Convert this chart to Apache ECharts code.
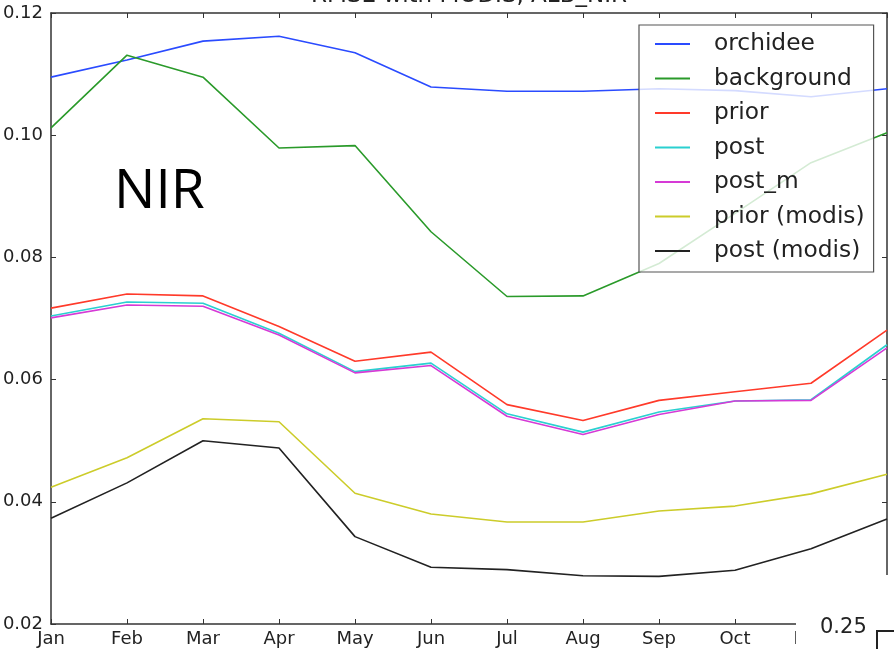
<!DOCTYPE html>
<html>
<head>
<meta charset="utf-8">
<script src="https://cdn.jsdelivr.net/npm/echarts@6/dist/echarts.min.js"></script>
<style>
  html, body { margin: 0; padding: 0; background: #fff; }
  #chart { width: 894px; height: 649px; }
</style>
</head>
<body>
<div id="chart"></div>
<script>
// monthly RMSE against MODIS, NIR albedo
const months = ["Jan", "Feb", "Mar", "Apr", "May", "Jun", "Jul", "Aug", "Sep", "Oct", "Nov", "Dec"];

const orchidee = [0.1095, 0.1123, 0.1154, 0.1162, 0.1135, 0.1079, 0.1072, 0.1072, 0.1076, 0.1073, 0.1063, 0.1076];
const background = [0.1012, 0.1131, 0.1095, 0.0979, 0.0983, 0.0842, 0.0736, 0.0737, 0.0790, 0.0872, 0.0955, 0.1004];
const prior = [0.0717, 0.0740, 0.0737, 0.0687, 0.0630, 0.0645, 0.0559, 0.0533, 0.0566, 0.0580, 0.0594, 0.0681];
const post = [0.0704, 0.0727, 0.0725, 0.0676, 0.0613, 0.0627, 0.0544, 0.0514, 0.0547, 0.0565, 0.0567, 0.0657];
const postM = [0.0701, 0.0722, 0.0720, 0.0673, 0.0611, 0.0623, 0.0540, 0.0510, 0.0543, 0.0565, 0.0566, 0.0652];
const priorModis = [0.0424, 0.0472, 0.0536, 0.0531, 0.0414, 0.0380, 0.0367, 0.0367, 0.0385, 0.0393, 0.0413, 0.0445];
const postModis = [0.0373, 0.0431, 0.0500, 0.0488, 0.0343, 0.0293, 0.0289, 0.0279, 0.0278, 0.0288, 0.0323, 0.0372];

const names = ["orchidee", "background", "prior", "post", "post_m", "prior (modis)", "post (modis)"];
const values = [orchidee, background, prior, post, postM, priorModis, postModis];
const colors = ["#2a4bff", "#2a9a2a", "#ff3a2a", "#2ad0d0", "#d63ad6", "#cccc2a", "#222222"];

const yTicks = ["0.02", "0.04", "0.06", "0.08", "0.10", "0.12"];

const font = "DejaVu Sans";
const axisColor = "#333";

const chart = echarts.init(document.getElementById("chart"), null, { renderer: "canvas" });

const tickStyle = { inside: true, length: 5, lineStyle: { color: axisColor, width: 1 } };

chart.setOption({
  animation: false,
  backgroundColor: "#fff",
  grid: { left: 51, top: 13, right: 7, bottom: 25, outerBoundsMode: "none", containLabel: false },
  xAxis: [
    {
      type: "category",
      data: months,
      boundaryGap: false,
      axisLine: { lineStyle: { color: axisColor, width: 1.5 } },
      axisTick: Object.assign({ alignWithLabel: true }, tickStyle),
      axisLabel: { color: "#222", fontFamily: font, fontSize: 18, margin: 6, interval: 0 },
      splitLine: { show: false }
    },
    {
      type: "category",
      data: months,
      position: "top",
      boundaryGap: false,
      axisLine: { lineStyle: { color: axisColor, width: 1.5 } },
      axisTick: tickStyle,
      axisLabel: { show: false },
      splitLine: { show: false }
    }
  ],
  yAxis: [
    {
      type: "value",
      min: 0.02,
      max: 0.12,
      interval: 0.02,
      axisLine: { show: true, lineStyle: { color: axisColor, width: 1.5 } },
      axisTick: Object.assign({ show: true }, tickStyle),
      axisLabel: {
        color: "#222",
        fontFamily: font,
        fontSize: 18,
        margin: 8,
        formatter: (v) => yTicks[Math.round((v - 0.02) / 0.02)]
      },
      splitLine: { show: false }
    },
    {
      type: "value",
      position: "right",
      min: 0.02,
      max: 0.12,
      interval: 0.02,
      axisLine: { show: true, lineStyle: { color: axisColor, width: 1.5 } },
      axisTick: Object.assign({ show: true }, tickStyle),
      axisLabel: { show: false },
      splitLine: { show: false }
    }
  ],
  legend: {
    orient: "vertical",
    left: 639,
    top: 25,
    padding: [7, 9, 9, 16],
    itemGap: 10.5,
    itemWidth: 35,
    itemHeight: 2,
    icon: "rect",
    backgroundColor: "rgba(255,255,255,0.8)",
    borderColor: "#555",
    borderWidth: 1.2,
    data: names,
    textStyle: {
      color: "#222",
      fontFamily: font,
      fontSize: 23.3,
      lineHeight: 24,
      padding: [0, 0, 0, 19]
    }
  },
  series: names.map((name, i) => ({
    name: name,
    type: "line",
    data: values[i],
    showSymbol: false,
    symbol: "none",
    silent: true,
    color: colors[i],
    lineStyle: { width: 1.6, color: colors[i] }
  })),
  graphic: [
    {
      type: "text",
      x: 469,
      y: -4,
      style: {
        text: "RMSE with MODIS, ALB_NIR",
        fontFamily: font,
        fontSize: 23,
        fill: "#222",
        align: "center",
        verticalAlign: "middle"
      }
    },
    {
      type: "text",
      x: 114,
      y: 192,
      style: {
        text: "NIR",
        fontFamily: "Open Sans",
        fontSize: 55,
        fill: "#000",
        align: "left",
        verticalAlign: "middle"
      }
    },
    // white patch of the neighbouring slide element covering the corner
    {
      type: "rect",
      z: 100,
      shape: { x: 796, y: 575, width: 98, height: 74 },
      style: { fill: "#fff" }
    },
    {
      type: "text",
      z: 101,
      x: 820,
      y: 628,
      style: {
        text: "0.25",
        fontFamily: font,
        fontSize: 21,
        fill: "#222",
        align: "left",
        verticalAlign: "middle"
      }
    },
    {
      type: "polyline",
      z: 101,
      shape: { points: [[877, 649], [877, 631], [894, 631]] },
      style: { stroke: "#222", lineWidth: 2, fill: null }
    }
  ]
});
</script>
</body>
</html>
